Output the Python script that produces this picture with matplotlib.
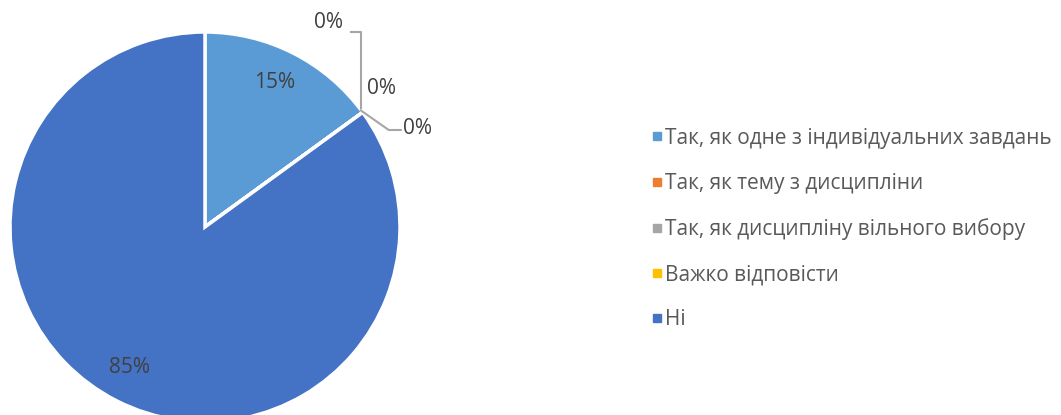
import matplotlib
matplotlib.use("Agg")
import matplotlib.pyplot as plt
import numpy as np
from matplotlib.lines import Line2D

categories = ["Так, як одне з індивідуальних завдань", "Так, як тему з дисципліни",
              "Так, як дисципліну вільного вибору", "Важко відповісти", "Ні"]
values = [15, 0, 0, 0, 85]
colors = ["#5B9BD5", "#ED7D31", "#A5A5A5", "#FFC000", "#4472C4"]

W, H = 1061, 415
plt.rcParams['font.family'] = ['Open Sans', 'DejaVu Sans']
fig = plt.figure(figsize=(W / 100, H / 100), dpi=100)
ax = fig.add_axes([0, 0, 1, 1])

cx, cy, R = 205, H - 227, 195
txtc = "#404040"
fs = 15

wedges, _ = ax.pie(values, colors=colors, startangle=90, counterclock=False,
                   center=(cx, cy), radius=R,
                   wedgeprops=dict(edgecolor='white', linewidth=2.5))
ax.set_aspect('auto')
ax.set_xlim(0, W)
ax.set_ylim(0, H)
ax.axis('off')

# percentage labels
total = sum(values)
for w, v in zip(wedges, values):
    if v > 0:
        mid = np.deg2rad((w.theta1 + w.theta2) / 2)
        rr = 0.82 * R
        ax.text(cx + rr * np.cos(mid) - 3, cy + rr * np.sin(mid) + 2, f"{v/total*100:.0f}%",
                ha='center', va='center', fontsize=fs, color=txtc)

# zero-value labels with leader lines
zero = [w for w, v in zip(wedges, values) if v == 0]
ang = np.deg2rad(zero[0].theta1)
ex, ey = cx + R * np.cos(ang), cy + R * np.sin(ang)
lc = "#A6A6A6"
# label 1: up then left
ax.plot([ex - 2, ex - 2, ex - 12], [ey + 4, H - 32, H - 32], color=lc, lw=1.5)
ax.text(ex - 20, H - 23, "0%", ha='right', va='center', fontsize=fs, color=txtc)
# label 2: beside
ax.text(ex + 4, H - 89, "0%", ha='left', va='center', fontsize=fs, color=txtc)
# label 3: down-right then right
ax.plot([ex - 2, ex + 26, ex + 38], [ey + 2, H - 130, H - 130], color=lc, lw=1.5)
ax.text(ex + 40, H - 128, "0%", ha='left', va='center', fontsize=fs, color=txtc)

handles = [Line2D([0], [0], marker='s', linestyle='none', markersize=6,
                  markerfacecolor=c, markeredgecolor=c) for c in colors]
leg = fig.legend(handles, categories, loc='center left',
                 bbox_to_anchor=(638 / W, 1 - 229 / H), frameon=False,
                 fontsize=fs, labelcolor="#595959", handletextpad=-0.1,
                 handlelength=1.0, labelspacing=1.16, borderaxespad=0)

fig.savefig("out.png", dpi=100)
